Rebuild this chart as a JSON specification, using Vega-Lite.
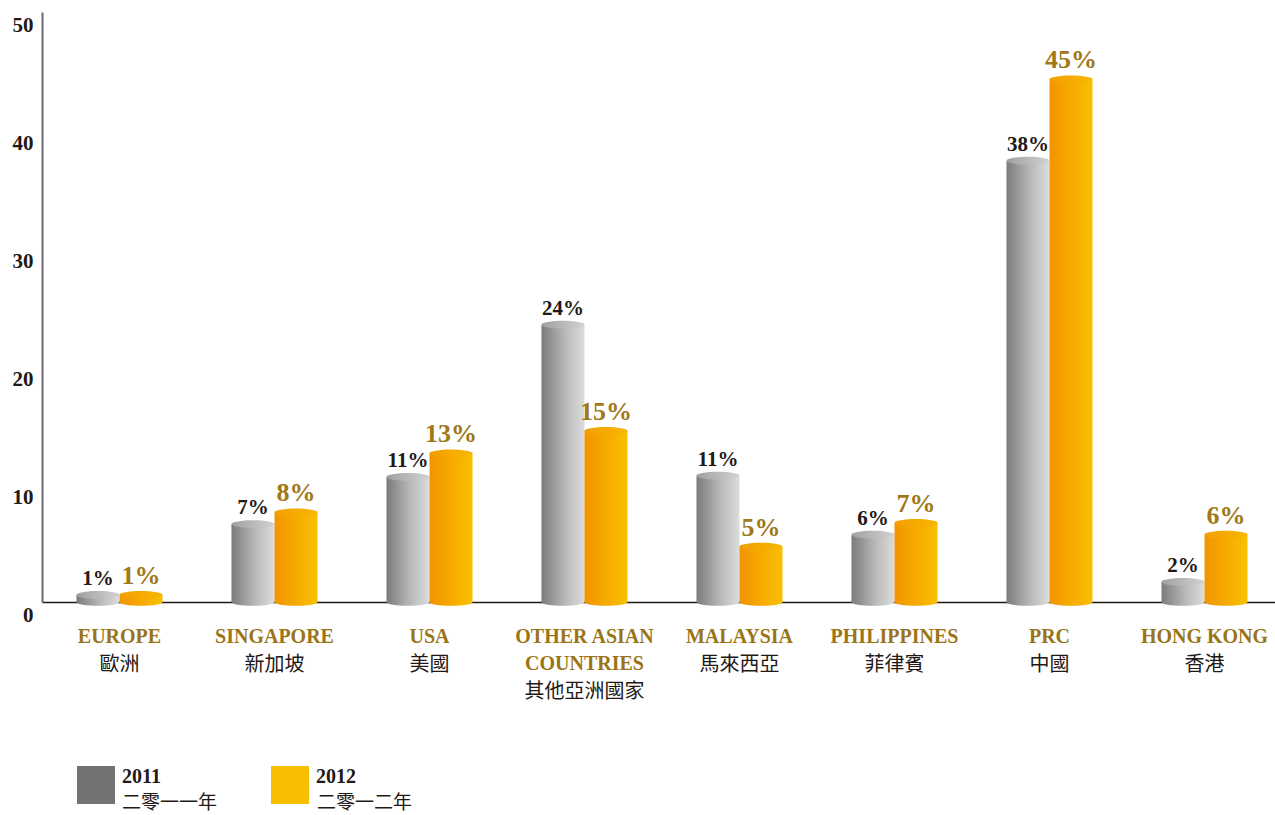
{
  "$schema": "https://vega.github.io/schema/vega-lite/v6.json",
  "width": 1240,
  "height": 590,
  "padding": {"left": 42, "top": 12, "right": 0, "bottom": 213},
  "autosize": {"type": "none"},
  "background": "#ffffff",
  "config": {"view": {"stroke": null}},
  "datasets": {
    "main": [
      {"en": "EUROPE", "zh": "歐洲", "year": "2011", "value": 0.6, "label": "1%"},
      {"en": "EUROPE", "zh": "歐洲", "year": "2012", "value": 0.6, "label": "1%"},
      {"en": "SINGAPORE", "zh": "新加坡", "year": "2011", "value": 6.6, "label": "7%"},
      {"en": "SINGAPORE", "zh": "新加坡", "year": "2012", "value": 7.6, "label": "8%"},
      {"en": "USA", "zh": "美國", "year": "2011", "value": 10.6, "label": "11%"},
      {"en": "USA", "zh": "美國", "year": "2012", "value": 12.6, "label": "13%"},
      {"en": "OTHER ASIAN COUNTRIES", "zh": "其他亞洲國家", "year": "2011", "value": 23.5, "label": "24%"},
      {"en": "OTHER ASIAN COUNTRIES", "zh": "其他亞洲國家", "year": "2012", "value": 14.5, "label": "15%"},
      {"en": "MALAYSIA", "zh": "馬來西亞", "year": "2011", "value": 10.7, "label": "11%"},
      {"en": "MALAYSIA", "zh": "馬來西亞", "year": "2012", "value": 4.7, "label": "5%"},
      {"en": "PHILIPPINES", "zh": "菲律賓", "year": "2011", "value": 5.7, "label": "6%"},
      {"en": "PHILIPPINES", "zh": "菲律賓", "year": "2012", "value": 6.7, "label": "7%"},
      {"en": "PRC", "zh": "中國", "year": "2011", "value": 37.4, "label": "38%"},
      {"en": "PRC", "zh": "中國", "year": "2012", "value": 44.3, "label": "45%"},
      {"en": "HONG KONG", "zh": "香港", "year": "2011", "value": 1.7, "label": "2%"},
      {"en": "HONG KONG", "zh": "香港", "year": "2012", "value": 5.7, "label": "6%"}
    ],
    "legend": [
      {"year": "2011", "yearZh": "二零一一年"},
      {"year": "2012", "yearZh": "二零一二年"}
    ]
  },
  "layer": [
    {
      "data": {"name": "main"},
      "transform": [{"filter": "datum.year == '2011'"}],
      "mark": {"type": "point", "shape": "M -1 0 A 1 0.18 0 1 1 1 0 A 1 0.18 0 1 1 -1 0 Z", "size": 1849, "filled": true, "opacity": 1, "strokeWidth": 0,
        "fill": {"gradient": "linear", "x1": 0, "y1": 0, "x2": 1, "y2": 0, "stops": [{"offset": 0, "color": "#7b7b7b"}, {"offset": 0.55, "color": "#b8b8b8"}, {"offset": 1, "color": "#dcdddd"}]}},
      "encoding": {
        "x": {"field": "en", "type": "nominal", "sort": null, "scale": {"paddingInner": 0.445, "paddingOuter": 0.2225},
          "axis": {"title": null, "labelAngle": 0, "ticks": false, "domainColor": "#231815", "domainWidth": 1.5,
            "labelFont": "Liberation Serif", "labelFontWeight": "bold", "labelFontSize": 20, "labelColor": "#9a7416",
            "labelPadding": 24, "labelLineHeight": 27, "labelLimit": 300,
            "labelExpr": "datum.label == 'OTHER ASIAN COUNTRIES' ? ['OTHER ASIAN', 'COUNTRIES'] : datum.label"}},
        "xOffset": {"field": "year", "type": "nominal", "scale": {"domain": ["2011", "2012"]}},
        "y": {"datum": 0, "type": "quantitative"}
      }
    },
    {
      "data": {"name": "main"},
      "transform": [{"filter": "datum.year == '2012'"}],
      "mark": {"type": "point", "shape": "M -1 0 A 1 0.18 0 1 1 1 0 A 1 0.18 0 1 1 -1 0 Z", "size": 1849, "filled": true, "opacity": 1, "strokeWidth": 0,
        "fill": {"gradient": "linear", "x1": 0, "y1": 0, "x2": 1, "y2": 0, "stops": [{"offset": 0, "color": "#f29400"}, {"offset": 1, "color": "#f9c000"}]}},
      "encoding": {
        "x": {"field": "en", "type": "nominal", "sort": null},
        "xOffset": {"field": "year", "type": "nominal", "scale": {"domain": ["2011", "2012"]}},
        "y": {"datum": 0, "type": "quantitative"}
      }
    },
    {
      "data": {"name": "main"},
      "transform": [{"filter": "datum.year == '2011'"}],
      "mark": {"type": "bar", "fill": {"gradient": "linear", "x1": 0, "y1": 0, "x2": 1, "y2": 0, "stops": [{"offset": 0, "color": "#7b7b7b"}, {"offset": 0.55, "color": "#b8b8b8"}, {"offset": 1, "color": "#dcdddd"}]}},
      "encoding": {
        "x": {"field": "en", "type": "nominal", "sort": null},
        "xOffset": {"field": "year", "type": "nominal", "scale": {"domain": ["2011", "2012"]}},
        "y": {"field": "value", "type": "quantitative", "scale": {"domain": [0, 50], "nice": false},
          "axis": {"title": null, "values": [0, 10, 20, 30, 40, 50], "grid": false, "ticks": false,
            "domainColor": "#6e6870", "domainWidth": 2, "labelFont": "Liberation Serif", "labelFontWeight": "bold",
            "labelFontSize": 21, "labelColor": "#231815", "labelPadding": 9, "labelOffset": 13}}
      }
    },
    {
      "data": {"name": "main"},
      "transform": [{"filter": "datum.year == '2012'"}],
      "mark": {"type": "bar", "fill": {"gradient": "linear", "x1": 0, "y1": 0, "x2": 1, "y2": 0, "stops": [{"offset": 0, "color": "#f29400"}, {"offset": 1, "color": "#f9c000"}]}},
      "encoding": {
        "x": {"field": "en", "type": "nominal", "sort": null},
        "xOffset": {"field": "year", "type": "nominal", "scale": {"domain": ["2011", "2012"]}},
        "y": {"field": "value", "type": "quantitative"}
      }
    },
    {
      "data": {"name": "main"},
      "transform": [{"filter": "datum.year == '2011'"}],
      "mark": {"type": "point", "shape": "M -1 0 A 1 0.18 0 1 1 1 0 A 1 0.18 0 1 1 -1 0 Z", "size": 1849, "filled": true, "opacity": 1, "strokeWidth": 0,
        "fill": {"gradient": "linear", "x1": 0, "y1": 0, "x2": 1, "y2": 0, "stops": [{"offset": 0, "color": "#a0a0a0"}, {"offset": 1, "color": "#d2d2d2"}]}},
      "encoding": {
        "x": {"field": "en", "type": "nominal", "sort": null},
        "xOffset": {"field": "year", "type": "nominal", "scale": {"domain": ["2011", "2012"]}},
        "y": {"field": "value", "type": "quantitative"}
      }
    },
    {
      "data": {"name": "main"},
      "transform": [{"filter": "datum.year == '2012'"}],
      "mark": {"type": "point", "shape": "M -1 0 A 1 0.18 0 1 1 1 0 A 1 0.18 0 1 1 -1 0 Z", "size": 1849, "filled": true, "opacity": 1, "strokeWidth": 0,
        "fill": {"gradient": "linear", "x1": 0, "y1": 0, "x2": 1, "y2": 0, "stops": [{"offset": 0, "color": "#f39f00"}, {"offset": 1, "color": "#f8b600"}]}},
      "encoding": {
        "x": {"field": "en", "type": "nominal", "sort": null},
        "xOffset": {"field": "year", "type": "nominal", "scale": {"domain": ["2011", "2012"]}},
        "y": {"field": "value", "type": "quantitative"}
      }
    },
    {
      "data": {"name": "main"},
      "transform": [{"filter": "datum.year == '2011'"}],
      "mark": {"type": "text", "font": "Liberation Serif", "fontWeight": "bold", "fontSize": 21, "color": "#231815", "baseline": "alphabetic", "dy": -10},
      "encoding": {
        "x": {"field": "en", "type": "nominal", "sort": null},
        "xOffset": {"field": "year", "type": "nominal", "scale": {"domain": ["2011", "2012"]}},
        "y": {"field": "value", "type": "quantitative"},
        "text": {"field": "label"}
      }
    },
    {
      "data": {"name": "main"},
      "transform": [{"filter": "datum.year == '2012'"}],
      "mark": {"type": "text", "font": "Liberation Serif", "fontWeight": "bold", "fontSize": 26, "color": "#a07818", "baseline": "alphabetic", "dy": -11},
      "encoding": {
        "x": {"field": "en", "type": "nominal", "sort": null},
        "xOffset": {"field": "year", "type": "nominal", "scale": {"domain": ["2011", "2012"]}},
        "y": {"field": "value", "type": "quantitative"},
        "text": {"field": "label"}
      }
    },
    {
      "data": {"name": "main"},
      "transform": [{"filter": "datum.year == '2011' && datum.en != 'OTHER ASIAN COUNTRIES'"}],
      "mark": {"type": "text", "font": "Noto Sans CJK TC", "fontSize": 20, "color": "#231815", "baseline": "middle", "dy": 63},
      "encoding": {
        "x": {"field": "en", "type": "nominal", "sort": null},
        "y": {"datum": 0, "type": "quantitative"},
        "text": {"field": "zh"}
      }
    },
    {
      "data": {"name": "main"},
      "transform": [{"filter": "datum.year == '2011' && datum.en == 'OTHER ASIAN COUNTRIES'"}],
      "mark": {"type": "text", "font": "Noto Sans CJK TC", "fontSize": 20, "color": "#231815", "baseline": "middle", "dy": 90},
      "encoding": {
        "x": {"field": "en", "type": "nominal", "sort": null},
        "y": {"datum": 0, "type": "quantitative"},
        "text": {"field": "zh"}
      }
    },
    {
      "data": {"name": "legend"},
      "mark": {"type": "point", "opacity": 0, "filled": true},
      "encoding": {
        "color": {"field": "year", "type": "nominal", "scale": {"domain": ["2011", "2012"], "range": ["#737373", "#f8be00"]},
          "legend": {"title": null, "orient": "none", "legendX": 35, "legendY": 754, "direction": "horizontal", "padding": 0,
            "symbolType": "square", "symbolSize": 1444, "symbolOpacity": 1, "symbolStrokeWidth": 0,
            "labelFont": "Liberation Serif", "labelFontWeight": "bold", "labelFontSize": 20, "labelColor": "#231815",
            "labelOffset": 7, "columnPadding": 110,
            "encode": {"labels": {"update": {"dy": {"value": -8}}}}}},
        "shape": {"field": "yearZh", "type": "nominal", "scale": {"domain": ["二零一一年", "二零一二年"], "range": ["square", "square"]},
          "legend": {"title": null, "orient": "none", "legendX": 35, "legendY": 772, "direction": "horizontal", "padding": 0,
            "symbolSize": 1444, "symbolOpacity": 0, "symbolStrokeWidth": 0, "symbolFillColor": "transparent", "symbolStrokeColor": "transparent",
            "labelFont": "Noto Sans CJK TC", "labelFontSize": 19, "labelColor": "#231815",
            "labelOffset": 7, "columnPadding": 54}}
      }
    }
  ]
}
